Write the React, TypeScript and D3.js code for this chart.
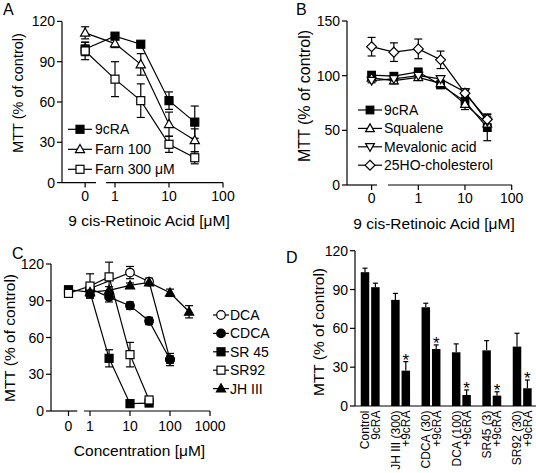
import React from "react";
import * as d3 from "d3";

const FONT = "'Liberation Sans', Arial, Helvetica, sans-serif";

// ---------------- Panel A ----------------
const aConc = [0, 1, 3, 10, 30];
const a9cRA = [99.5, 109, 103, 61, 45];
const a9cRAErr = [5, 2, 2, 6.5, 12];
const aFarn100 = [111.5, 103.5, 88, 43.5, 31.5];
const aFarn100Err = [4.5, 3, 8, 9, 8.5];
const aFarn300 = [98, 77, 61, 28.5, 18.5];
const aFarn300Err = [6.5, 13, 12.5, 6, 4.5];
const aYTicks = [0, 30, 60, 90, 120];
const aXTicks = [0, 1, 10, 100];

// ---------------- Panel B ----------------
const bConc = [0, 0.3, 1, 3, 10, 30];
const b9cRA = [100.5, 99.5, 103.5, 91.5, 76.5, 52.5];
const b9cRAErr = [3, 3, 3, 3, 5, 12];
const bSqualene = [98, 95.5, 98.5, 93, 74, 56];
const bSqualeneErr = [2, 3, 2, 3, 5, 6];
const bMevalonic = [95.5, 97, 100, 97, 85, 58];
const bMevalonicErr = [2, 2, 2, 2, 3, 5];
const b25HO = [126.5, 121.5, 124.5, 114.5, 84, 60];
const b25HOErr = [8.5, 8.5, 9, 8, 4, 5];
const bYTicks = [0, 50, 100, 150];
const bXTicks = [0, 1, 10, 100];

// ---------------- Panel C ----------------
const cDCAConc = [1, 10, 30, 100];
const cDCA = [100, 113, 105.5, 42];
const cDCAErr = [3, 5, 3, 5];
const cCDCAConc = [1, 3, 10, 30, 100];
const cCDCA = [100, 93, 86, 73.5, 42];
const cCDCAErr = [3, 4, 3, 3, 3];
const cSR45Conc = [0, 1, 3, 10, 30];
const cSR45 = [99, 97, 43, 6, 6.5];
const cSR45Err = [2, 4, 7, 1, 1];
const cSR92Conc = [0, 1, 3, 10, 30];
const cSR92 = [96, 102, 109.5, 46, 9];
const cSR92Err = [3, 10, 12, 10, 1];
const cJHConc = [1, 3, 10, 30, 100, 300];
const cJH = [97, 98.5, 102.5, 105, 96.5, 81];
const cJHErr = [4, 3, 2, 2, 3, 5];
const cYTicks = [0, 30, 60, 90, 120];
const cXTicks = [0, 1, 10, 100, 1000];

// ---------------- Panel D ----------------
const dLabels = [
  "Control", "9cRA",
  "JH III (300)", "+9cRA",
  "CDCA (30)", "+9cRA",
  "DCA (100)", "+9cRA",
  "SR45 (3)", "+9cRA",
  "SR92 (30)", "+9cRA",
];
const dValues = [103.4, 91.8, 82, 27.3, 76.3, 44, 41.5, 8.5, 43, 8, 45.9, 13.7];
const dErr = [3.1, 3.1, 5, 7, 3.1, 3.2, 6.5, 3.9, 7.5, 3, 10.3, 6.4];
const dStar = [false, false, false, true, false, true, false, true, false, true, false, true];
const dYTicks = [0, 30, 60, 90, 120];

type Shape = "square" | "triangle" | "triangleDown" | "diamond" | "circle";

interface Series {
  name: string;
  conc: number[];
  values: number[];
  errs: number[];
  shape: Shape;
  filled: boolean;
}

function Marker({ x, y, shape, filled, size }: { x: number; y: number; shape: Shape; filled: boolean; size: number }) {
  const common = { fill: filled ? "#000" : "#fff", stroke: "#000", strokeWidth: 1.2 };
  if (shape === "circle") return <circle cx={x} cy={y} r={size + 0.3} {...common} />;
  if (shape === "square")
    return <rect x={x - size} y={y - size} width={2 * size} height={2 * size} {...common} />;
  let pts: number[][];
  if (shape === "triangle")
    pts = [[0, -size * 1.2], [size * 1.15, size * 0.85], [-size * 1.15, size * 0.85]];
  else if (shape === "triangleDown")
    pts = [[0, size * 1.2], [size * 1.15, -size * 0.85], [-size * 1.15, -size * 0.85]];
  else pts = [[0, -size * 1.3], [size * 1.3, 0], [0, size * 1.3], [-size * 1.3, 0]];
  return <polygon points={pts.map((p) => `${x + p[0]},${y + p[1]}`).join(" ")} {...common} />;
}

interface LinePanelProps {
  id: string;
  letter: string;
  letterPos: [number, number];
  series: Series[];
  yDomain: [number, number];
  yRange: [number, number];
  yTicks: number[];
  xDomain: [number, number];
  xRange: [number, number];
  zeroProxy: number;
  xTicks: number[];
  axisX: number;
  segments: [number, number][];
  xTickBaseline: number;
  xTitle: string;
  xTitlePos: [number, number];
  xTitleSize: number;
  yTitlePos: [number, number];
  yTitleSize: number;
  legendLine: [number, number];
  legendText: number;
  legendRows: number[];
  legendSize: number;
  markerSize: number;
}

function LinePanel(p: LinePanelProps) {
  const y = d3.scaleLinear().domain(p.yDomain).range(p.yRange);
  const xl = d3.scaleLog().domain(p.xDomain).range(p.xRange);
  const xp = (c: number) => (c === 0 ? xl(p.zeroProxy) : xl(c));
  const line = d3
    .line<[number, number]>()
    .x((d) => xp(d[0]))
    .y((d) => y(d[1]));
  const y0 = p.yRange[0];
  const top = p.yRange[1] - 30;
  const clipId = `clip-${p.id}`;
  const capW = 4;
  const lm = (p.legendLine[0] + p.legendLine[1]) / 2;
  return (
    <g>
      <defs>
        <clipPath id={clipId}>
          {p.segments.map(([a, b], i) => (
            <rect key={i} x={a} y={top} width={b - a + 40} height={y0 - top} />
          ))}
        </clipPath>
      </defs>
      <text x={p.letterPos[0]} y={p.letterPos[1]} fontSize={16}>
        {p.letter}
      </text>
      {/* y axis */}
      <line x1={p.axisX} x2={p.axisX} y1={p.yRange[1]} y2={y0} stroke="#000" strokeWidth={1.2} />
      {p.yTicks.map((t) => (
        <g key={t}>
          <line x1={p.axisX - 5} x2={p.axisX} y1={y(t)} y2={y(t)} stroke="#000" strokeWidth={1.2} />
          <text x={p.axisX - 7} y={y(t)} dy="0.36em" textAnchor="end" fontSize={14}>
            {t}
          </text>
        </g>
      ))}
      {/* x axis */}
      {p.segments.map(([a, b], i) => (
        <line key={i} x1={a} x2={b} y1={y0} y2={y0} stroke="#000" strokeWidth={1.2} />
      ))}
      {p.xTicks.map((t) => (
        <g key={t}>
          <line x1={xp(t)} x2={xp(t)} y1={y0} y2={y0 + 5} stroke="#000" strokeWidth={1.2} />
          <text x={xp(t)} y={p.xTickBaseline} textAnchor="middle" fontSize={14}>
            {t}
          </text>
        </g>
      ))}
      <text x={p.xTitlePos[0]} y={p.xTitlePos[1]} textAnchor="middle" fontSize={p.xTitleSize}>
        {p.xTitle}
      </text>
      <text
        transform={`translate(${p.yTitlePos[0]},${p.yTitlePos[1]}) rotate(-90)`}
        textAnchor="middle"
        fontSize={p.yTitleSize}
      >
        MTT (% of control)
      </text>
      {/* lines */}
      <g clipPath={`url(#${clipId})`}>
        {p.series.map((s) => (
          <path
            key={s.name}
            d={line(s.conc.map((c, i) => [c, s.values[i]] as [number, number])) || ""}
            fill="none"
            stroke="#000"
            strokeWidth={1.2}
          />
        ))}
      </g>
      {/* error bars */}
      {p.series.map((s) =>
        s.conc.map((c, i) => {
          const cx = xp(c);
          const yt = y(s.values[i] + s.errs[i]);
          const yb = y(s.values[i] - s.errs[i]);
          return (
            <g key={s.name + i} stroke="#000" strokeWidth={1.2}>
              <line x1={cx} x2={cx} y1={yt} y2={yb} />
              <line x1={cx - capW} x2={cx + capW} y1={yt} y2={yt} />
              <line x1={cx - capW} x2={cx + capW} y1={yb} y2={yb} />
            </g>
          );
        })
      )}
      {/* markers */}
      {p.series.map((s) =>
        s.conc.map((c, i) => (
          <Marker key={s.name + "m" + i} x={xp(c)} y={y(s.values[i])} shape={s.shape} filled={s.filled} size={p.markerSize} />
        ))
      )}
      {/* legend */}
      {p.series.map((s, i) => (
        <g key={s.name + "lg"}>
          <line x1={p.legendLine[0]} x2={p.legendLine[1]} y1={p.legendRows[i]} y2={p.legendRows[i]} stroke="#000" strokeWidth={1.2} />
          <Marker x={lm} y={p.legendRows[i]} shape={s.shape} filled={s.filled} size={p.markerSize} />
          <text x={p.legendText} y={p.legendRows[i]} dy="0.36em" fontSize={p.legendSize}>
            {s.name}
          </text>
        </g>
      ))}
    </g>
  );
}

function BarPanel() {
  const y = d3.scaleLinear().domain([0, 120]).range([406, 250.7]);
  const groups = d3.range(dLabels.length / 2);
  const xg = d3.scaleBand<number>().domain(groups).range([355, 537.4]);
  const half = 5.2;
  const bw = 8.5;
  const cx = (i: number) => (xg(Math.floor(i / 2)) as number) + xg.bandwidth() / 2 + (i % 2 ? half : -half);
  const axisX = 355;
  return (
    <g>
      <text x={286} y={263} fontSize={16}>
        D
      </text>
      <text transform={`translate(323.5,332) rotate(-90)`} textAnchor="middle" fontSize={15.5}>
        MTT (% of control)
      </text>
      {dValues.map((v, i) => {
        const x = cx(i);
        const yt = y(v + dErr[i]);
        return (
          <g key={i}>
            <line x1={x} x2={x} y1={yt} y2={y(v)} stroke="#000" strokeWidth={1.2} />
            <line x1={x - 2.5} x2={x + 2.5} y1={yt} y2={yt} stroke="#000" strokeWidth={1.2} />
            <rect x={x - bw / 2} y={y(v)} width={bw} height={y(0) - y(v)} fill="#000" />
            {dStar[i] && (
              <text x={x} y={yt + 4} textAnchor="middle" fontSize={17}>
                *
              </text>
            )}
          </g>
        );
      })}
      <line x1={axisX} x2={axisX} y1={y(120)} y2={y(0)} stroke="#000" strokeWidth={1.2} />
      <line x1={axisX} x2={536} y1={y(0)} y2={y(0)} stroke="#000" strokeWidth={1.2} />
      {dYTicks.map((t) => (
        <g key={t}>
          <line x1={axisX - 5} x2={axisX} y1={y(t)} y2={y(t)} stroke="#000" strokeWidth={1.2} />
          <text x={axisX - 7} y={y(t)} dy="0.36em" textAnchor="end" fontSize={14}>
            {t}
          </text>
        </g>
      ))}
      {dLabels.map((l, i) => (
        <text
          key={i}
          transform={`translate(${cx(i)},410.5) rotate(-90)`}
          textAnchor="end"
          dy="0.36em"
          fontSize={12}
        >
          {l}
        </text>
      ))}
    </g>
  );
}

export default function App() {
  const seriesA: Series[] = [
    { name: "9cRA", conc: aConc, values: a9cRA, errs: a9cRAErr, shape: "square", filled: true },
    { name: "Farn 100", conc: aConc, values: aFarn100, errs: aFarn100Err, shape: "triangle", filled: false },
    { name: "Farn 300 μM", conc: aConc, values: aFarn300, errs: aFarn300Err, shape: "square", filled: false },
  ];
  const seriesB: Series[] = [
    { name: "9cRA", conc: bConc, values: b9cRA, errs: b9cRAErr, shape: "square", filled: true },
    { name: "Squalene", conc: bConc, values: bSqualene, errs: bSqualeneErr, shape: "triangle", filled: false },
    { name: "Mevalonic acid", conc: bConc, values: bMevalonic, errs: bMevalonicErr, shape: "triangleDown", filled: false },
    { name: "25HO-cholesterol", conc: bConc, values: b25HO, errs: b25HOErr, shape: "diamond", filled: false },
  ];
  const seriesC: Series[] = [
    { name: "DCA", conc: cDCAConc, values: cDCA, errs: cDCAErr, shape: "circle", filled: false },
    { name: "CDCA", conc: cCDCAConc, values: cCDCA, errs: cCDCAErr, shape: "circle", filled: true },
    { name: "SR 45", conc: cSR45Conc, values: cSR45, errs: cSR45Err, shape: "square", filled: true },
    { name: "SR92", conc: cSR92Conc, values: cSR92, errs: cSR92Err, shape: "square", filled: false },
    { name: "JH III", conc: cJHConc, values: cJH, errs: cJHErr, shape: "triangle", filled: true },
  ];
  return (
    <svg width={536} height={473} style={{ position: "absolute", left: 0, top: 0, fontFamily: FONT }}>
      <rect width={536} height={473} fill="#fff" />
      <LinePanel
        id="a"
        letter="A"
        letterPos={[3, 15]}
        series={seriesA}
        yDomain={[0, 120]}
        yRange={[182.6, 21.4]}
        yTicks={aYTicks}
        xDomain={[1, 100]}
        xRange={[115, 223]}
        zeroProxy={0.28}
        xTicks={aXTicks}
        axisX={62}
        segments={[[62, 96], [106, 223]]}
        xTickBaseline={201}
        xTitle="9 cis-Retinoic Acid [μM]"
        xTitlePos={[149, 226]}
        xTitleSize={15.5}
        yTitlePos={[22.5, 93]}
        yTitleSize={14.5}
        legendLine={[68, 92]}
        legendText={95}
        legendRows={[129.3, 149.3, 169.3]}
        legendSize={14}
        markerSize={4}
      />
      <LinePanel
        id="b"
        letter="B"
        letterPos={[296, 15]}
        series={seriesB}
        yDomain={[0, 150]}
        yRange={[185, 21]}
        yTicks={bYTicks}
        xDomain={[1, 100]}
        xRange={[418.3, 511.7]}
        zeroProxy={0.1}
        xTicks={bXTicks}
        axisX={347}
        segments={[[347, 377], [388, 512]]}
        xTickBaseline={203}
        xTitle="9 cis-Retinoic Acid [μM]"
        xTitlePos={[434, 229]}
        xTitleSize={15.5}
        yTitlePos={[309.5, 96]}
        yTitleSize={16}
        legendLine={[358, 382]}
        legendText={384}
        legendRows={[110, 128.4, 146.8, 165.2]}
        legendSize={14}
        markerSize={3.8}
      />
      <LinePanel
        id="c"
        letter="C"
        letterPos={[12, 259]}
        series={seriesC}
        yDomain={[0, 120]}
        yRange={[411, 264]}
        yTicks={cYTicks}
        xDomain={[1, 1000]}
        xRange={[90, 210]}
        zeroProxy={0.29}
        xTicks={cXTicks}
        axisX={51}
        segments={[[51, 77.3], [84, 210]]}
        xTickBaseline={431}
        xTitle="Concentration [μM]"
        xTitlePos={[139.5, 456]}
        xTitleSize={15.5}
        yTitlePos={[15, 338]}
        yTitleSize={15.5}
        legendLine={[213, 229]}
        legendText={230}
        legendRows={[315, 333.4, 351.8, 370.2, 388.6]}
        legendSize={14}
        markerSize={4}
      />
      <BarPanel />
    </svg>
  );
}
